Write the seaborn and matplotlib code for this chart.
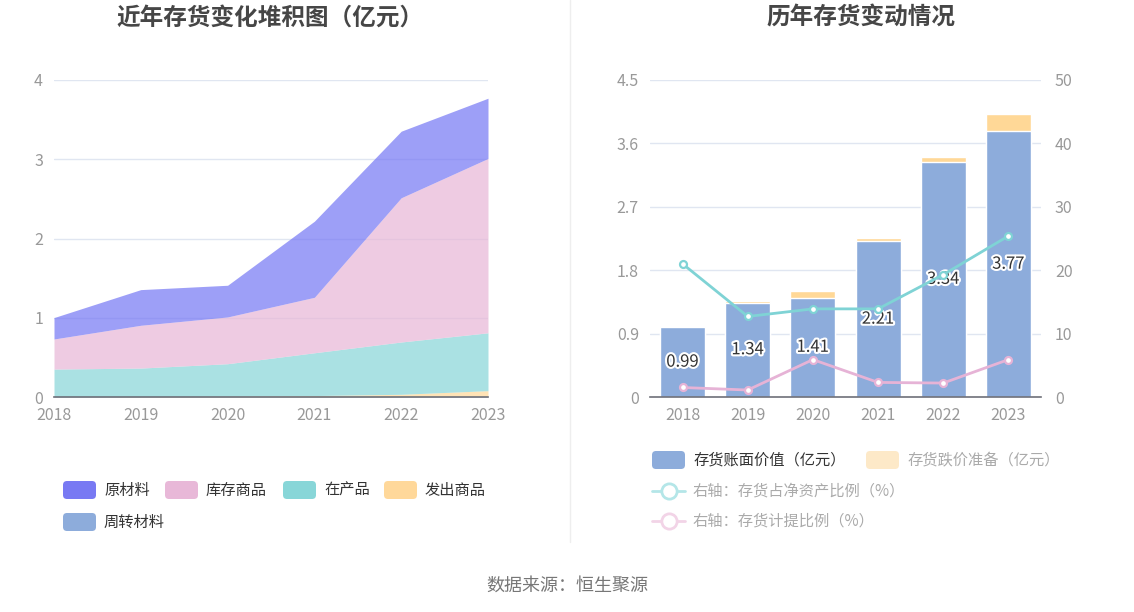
import numpy as np
import matplotlib
matplotlib.use('Agg')
import matplotlib.pyplot as plt
import matplotlib.patheffects as pe
from matplotlib.patches import FancyBboxPatch
from matplotlib.lines import Line2D
import seaborn as sns

# ---- data ----
years = ['2018', '2019', '2020', '2021', '2022', '2023']

# left: stacked inventory composition (亿元)
zhouzhuan = [0.002, 0.002, 0.003, 0.003, 0.004, 0.005]   # 周转材料
fachu = [0.0, 0.003, 0.007, 0.015, 0.03, 0.075]          # 发出商品
zaichan = [0.35, 0.36, 0.41, 0.54, 0.66, 0.73]           # 在产品
kucun = [0.38, 0.54, 0.59, 0.70, 1.82, 2.20]             # 库存商品
yuancai = [0.27, 0.45, 0.40, 0.96, 0.84, 0.76]           # 原材料

# right: book value / provision / ratios
book_value = [0.99, 1.34, 1.41, 2.21, 3.34, 3.77]
provision = [0.02, 0.02, 0.09, 0.05, 0.07, 0.25]
ratio_net_assets = [21.0, 12.7, 13.9, 13.9, 19.3, 25.4]
ratio_provision = [1.5, 1.1, 5.9, 2.3, 2.2, 5.9]

W, H = 1134, 612
sns.set_theme(style='white')
plt.rcParams['font.family'] = ['Noto Sans CJK SC', 'DejaVu Sans']
plt.rcParams['axes.unicode_minus'] = False

fig = plt.figure(figsize=(W / 100, H / 100), dpi=100)
fig.patch.set_facecolor('white')

tick_color = '#999999'
axis_color = '#6e7079'
grid_color = '#e0e6f1'

c_yuan = '#7476f4'
c_kucun = '#e8b6d6'
c_zai = '#86d5d8'
c_fachu = '#ffd897'
c_zhou = '#8dacdb'


def style_axes(ax):
    for s in ['top', 'right', 'left']:
        ax.spines[s].set_visible(False)
    ax.spines['bottom'].set_color(axis_color)
    ax.spines['bottom'].set_linewidth(1.2)
    ax.tick_params(axis='y', length=0, colors=tick_color, labelsize=11.5, pad=8)
    ax.tick_params(axis='x', length=5, width=1, color=axis_color, labelcolor=tick_color,
                   labelsize=11.5, pad=2, direction='out')
    ax.grid(axis='y', color=grid_color, linewidth=1)
    ax.set_axisbelow(True)
    ax.set_xlabel('')
    ax.set_ylabel('')


# ---- left chart ----
ax1 = fig.add_axes([54 / W, 1 - 397 / H, 434 / W, 317 / H])
x = np.arange(len(years))
ax1.stackplot(x, zhouzhuan, fachu, zaichan, kucun, yuancai,
              colors=[c_zhou, c_fachu, c_zai, c_kucun, c_yuan], alpha=0.7, linewidth=0)
ax1.set_xlim(0, 5)
ax1.set_ylim(0, 4)
ax1.set_yticks([0, 1, 2, 3, 4])
ax1.set_xticks(x)
ax1.set_xticklabels(years)
style_axes(ax1)

# ---- right chart ----
ax2 = fig.add_axes([650 / W, 1 - 397 / H, 391 / W, 317 / H])
totals = [b + p for b, p in zip(book_value, provision)]
sns.barplot(x=years, y=totals, color=c_fachu, width=0.69, saturation=1,
            errorbar=None, ax=ax2)
sns.barplot(x=years, y=book_value, color=c_zhou, width=0.69, saturation=1,
            errorbar=None, ax=ax2)
ax2.set_xlim(-0.5, 5.5)
ax2.set_ylim(0, 4.5)
ax2.set_yticks([0, 0.9, 1.8, 2.7, 3.6, 4.5])
ax2.set_yticklabels(['0', '0.9', '1.8', '2.7', '3.6', '4.5'])
style_axes(ax2)
for i, v in enumerate(book_value):
    ax2.text(i, v / 2, f'{v:.2f}', ha='center', va='center', fontsize=12,
             color='#333333', zorder=5,
             path_effects=[pe.withStroke(linewidth=3, foreground='white')])

ax3 = ax2.twinx()
sns.lineplot(x=x, y=ratio_net_assets, ax=ax3, color='#7fd3d5', linewidth=2,
             marker='o', markersize=5, markerfacecolor='white',
             markeredgecolor='#7fd3d5', markeredgewidth=1.6)
sns.lineplot(x=x, y=ratio_provision, ax=ax3, color='#e6b3d6', linewidth=2,
             marker='o', markersize=5, markerfacecolor='white',
             markeredgecolor='#e6b3d6', markeredgewidth=1.6)
ax3.set_ylim(0, 50)
ax3.set_yticks([0, 10, 20, 30, 40, 50])
for s in ax3.spines.values():
    s.set_visible(False)
ax3.tick_params(axis='y', length=0, colors=tick_color, labelsize=11.5, pad=10)
ax3.set_ylabel('')
ax3.grid(False)

# ---- titles, separator, source ----
fig.text(270 / W, 1 - 18 / H, '近年存货变化堆积图（亿元）', ha='center', va='center',
         fontsize=17, fontweight='bold', color='#464646')
fig.text(861 / W, 1 - 18 / H, '历年存货变动情况', ha='center', va='center',
         fontsize=17, fontweight='bold', color='#464646')
fig.add_artist(Line2D([570 / W, 570 / W], [1 - 542 / H, 1], color='#eeeeee', linewidth=1))
fig.text(567 / W, 1 - 586 / H, '数据来源：恒生聚源', ha='center', va='center',
         fontsize=13, color='#777777')

# ---- legends (drawn on an overlay in pixel coords) ----
ov = fig.add_axes([0, 0, 1, 1], zorder=10)
ov.set_xlim(0, W)
ov.set_ylim(H, 0)
ov.axis('off')
ov.patch.set_alpha(0)


def swatch(xl, yc, color, label, text_color='#333333'):
    ov.add_patch(FancyBboxPatch((xl + 3, yc - 6), 27, 12,
                                boxstyle='round,pad=3,rounding_size=4',
                                facecolor=color, edgecolor='none'))
    ov.text(xl + 41, yc, label, ha='left', va='center', fontsize=11, color=text_color)


def line_item(xl, yc, color, label, text_color='#aaaaaa'):
    ov.plot([xl, xl + 33], [yc, yc], color=color, linewidth=2)
    ov.plot([xl + 16.5], [yc], marker='o', markersize=11, markerfacecolor='white',
            markeredgecolor=color, markeredgewidth=2)
    ov.text(xl + 41, yc, label, ha='left', va='center', fontsize=11, color=text_color)


swatch(63, 490, '#7879f3', '原材料')
swatch(165, 490, '#e8b8d8', '库存商品')
swatch(283, 490, '#88d6d8', '在产品')
swatch(384, 490, '#ffd89a', '发出商品')
swatch(63, 522, '#8dacdb', '周转材料')

swatch(652, 460, '#8dacdb', '存货账面价值（亿元）')
swatch(866, 460, '#fde9c8', '存货跌价准备（亿元）', text_color='#aaaaaa')
line_item(652, 491, '#b4e6e8', '右轴：存货占净资产比例（%）')
line_item(652, 521, '#f2d4e7', '右轴：存货计提比例（%）')

fig.savefig('out.png', dpi=100, facecolor='white')
